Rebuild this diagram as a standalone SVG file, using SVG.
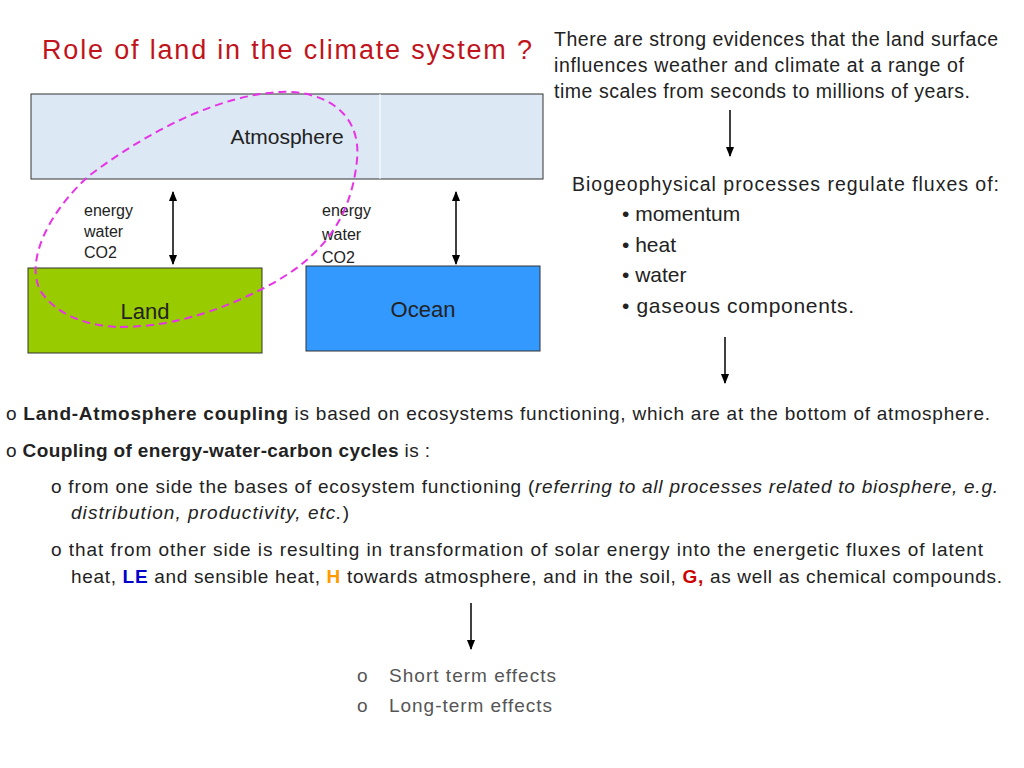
<svg xmlns="http://www.w3.org/2000/svg" width="1024" height="768" viewBox="0 0 1024 768">
<style>
text{font-family:"Liberation Sans",Arial,sans-serif;fill:#222}
.s{font-size:16px}
.m{font-size:19.5px}
.b{font-size:19px}
.box{stroke:#333;stroke-width:1}
.ln{stroke:#000;stroke-width:1.5;fill:none}
</style>
<defs>
<marker id="a" viewBox="0 0 10 10" refX="9" refY="5" markerWidth="7" markerHeight="7" orient="auto-start-reverse"><path d="M0,1 L10,5 L0,9 z" fill="#000"/></marker>
</defs>
<rect width="1024" height="768" fill="#fff"/>
<text x="42" y="59" font-size="27" textLength="490" style="fill:#c0141c">Role of land in the climate system ?</text>
<text class="m" x="554" y="46" textLength="444">There are strong evidences that the land surface</text>
<text class="m" x="554" y="72" textLength="410">influences weather and climate at a range of</text>
<text class="m" x="554" y="98" textLength="416">time scales from seconds to millions of years.</text>
<g id="atmosphere"><rect class="box" x="31" y="94" width="512" height="85" fill="#dce8f3"/><line x1="380" y1="94" x2="380" y2="179" stroke="#fff"/><text x="287" y="144" font-size="21" text-anchor="middle">Atmosphere</text></g>
<g id="land"><rect class="box" x="28" y="268" width="234" height="85" fill="#99cc00"/><text x="145" y="319" font-size="22" text-anchor="middle">Land</text></g>
<g id="ocean"><rect class="box" x="306" y="266" width="234" height="85" fill="#3399ff"/><text x="423" y="317" font-size="22" text-anchor="middle">Ocean</text></g>
<g id="labels" class="s">
<text x="84" y="216">energy</text><text x="84" y="237">water</text><text x="84" y="258">CO2</text>
<text x="322" y="216">energy</text><text x="322" y="240">water</text><text x="322" y="263">CO2</text>
</g>
<g id="connectors">
<line class="ln" x1="173" y1="192" x2="173" y2="264" marker-start="url(#a)" marker-end="url(#a)"/>
<line class="ln" x1="456" y1="192" x2="456" y2="264" marker-start="url(#a)" marker-end="url(#a)"/>
<line class="ln" x1="730" y1="110" x2="730" y2="156" marker-end="url(#a)"/>
<line class="ln" x1="725" y1="337" x2="725" y2="383" marker-end="url(#a)"/>
<line class="ln" x1="471" y1="603" x2="471" y2="649" marker-end="url(#a)"/>
<path d="M120 327 C180 327 230 305 260 290 C310 265 350 230 357 160 C362 110 320 90 280 92 C220 95 150 130 90 175 C50 210 25 260 40 290 C55 315 90 327 120 327 Z" fill="none" stroke="#e633e6" stroke-width="2" stroke-dasharray="8,5"/>
</g>
<g class="m">
<text x="572" y="191" textLength="427">Biogeophysical processes regulate fluxes of:</text>
<text x="622" y="221" font-size="21">• momentum</text>
<text x="622" y="252" font-size="21">• heat</text>
<text x="622" y="282" font-size="21">• water</text>
<text x="622" y="313" font-size="21" textLength="232">• gaseous components.</text>
</g>
<g class="b">
<text x="6" y="420" textLength="984">o <tspan font-weight="bold">Land-Atmosphere coupling</tspan> is based on ecosystems functioning, which are at the bottom of atmosphere.</text>
<text x="6" y="457" textLength="424">o <tspan font-weight="bold">Coupling of energy-water-carbon cycles</tspan> is :</text>
<text x="51" y="493" textLength="947">o from one side the bases of ecosystem functioning (<tspan font-style="italic">referring to all processes related to biosphere, e.g.</tspan></text>
<text x="71" y="519" font-style="italic" textLength="278">distribution, productivity, etc.<tspan font-style="normal">)</tspan></text>
<text x="51" y="556" textLength="932">o that from other side is resulting in transformation of solar energy into the energetic fluxes of latent</text>
<text x="71" y="583" textLength="931">heat, <tspan font-weight="bold" style="fill:#0000cc">LE</tspan> and sensible heat, <tspan font-weight="bold" style="fill:#ff9900">H</tspan> towards atmosphere, and in the soil, <tspan font-weight="bold" style="fill:#cc0000">G,</tspan> as well as chemical compounds.</text>
</g>
<g class="b">
<text x="357" y="682" style="fill:#555">o</text><text x="389" y="682" style="fill:#555" textLength="167">Short term effects</text>
<text x="357" y="712" style="fill:#555">o</text><text x="389" y="712" style="fill:#555" textLength="163">Long-term effects</text>
</g>
</svg>
